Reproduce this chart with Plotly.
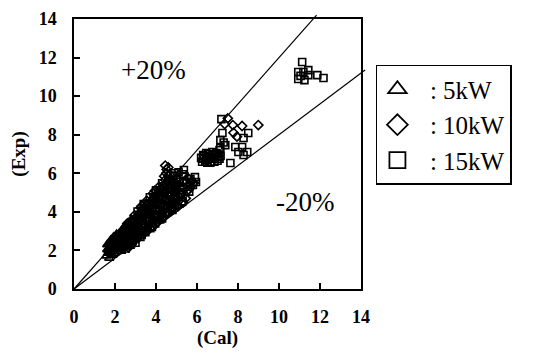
import plotly.graph_objects as go

# ---- data ----
tri_x = [1.58, 1.62, 1.66, 1.70, 1.72, 1.76, 1.80, 1.83, 1.86, 1.90, 1.93, 1.97, 2.00, 2.04,
         2.08, 2.12, 2.15, 2.19, 2.23, 2.27, 2.31, 2.35, 2.39, 2.43, 2.47, 2.52, 2.56, 2.61,
         2.66, 2.71, 2.76, 2.82, 2.88, 2.95, 3.02, 1.68, 1.95, 2.21, 2.49, 2.74,
         1.62, 1.74, 1.78, 1.88, 1.92, 2.02, 2.06, 2.16, 2.20, 2.28, 2.34, 2.38, 2.44, 2.50,
         2.58, 2.64, 2.68, 2.80, 2.86, 2.92,
         1.72, 1.84, 1.96, 2.08, 2.20, 2.32, 2.44, 2.10, 2.30, 2.55, 2.80,
         1.75, 1.90, 2.05, 2.20, 2.35, 2.50, 2.65, 2.80,
         1.80, 2.00, 2.25, 2.45, 2.70]
tri_y = [1.72, 2.05, 1.85, 2.38, 1.60, 2.15, 2.55, 1.80, 2.30, 2.05, 2.70, 1.85, 2.45, 2.20,
         2.85, 1.95, 2.55, 2.30, 2.90, 2.05, 2.65, 2.40, 3.05, 2.15, 2.75, 2.50, 3.20, 2.25,
         2.90, 2.60, 3.35, 2.40, 3.05, 2.75, 3.45, 2.00, 2.25, 2.60, 2.35, 2.95,
         2.30, 1.90, 2.40, 1.75, 2.50, 2.05, 2.65, 2.10, 2.75, 2.45, 2.95, 2.20, 2.55, 3.05,
         2.40, 3.10, 2.70, 2.95, 2.55, 3.25,
         2.12, 2.28, 2.42, 2.52, 2.70, 2.86, 2.98, 2.75, 1.96, 2.18, 2.38,
         2.30, 2.50, 2.70, 2.88, 3.08, 3.28, 3.45, 3.62,
         2.02, 2.28, 2.55, 2.78, 3.05]

dia_x = [2.42, 2.48, 2.55, 2.60, 2.66, 2.72, 2.78, 2.84, 2.90, 2.96, 3.02, 3.08, 3.14, 3.20,
         3.26, 3.32, 3.38, 3.44, 3.50, 3.56, 3.62, 3.68, 3.74, 3.80, 3.86, 3.92, 3.98, 4.04,
         4.10, 4.16, 4.22, 4.28, 4.34, 4.40, 4.46, 4.52, 4.58, 4.64, 4.70, 4.76, 4.82, 4.88,
         4.95, 5.02, 5.10, 5.18, 5.26, 5.32, 5.40, 5.48, 5.56, 5.65, 5.75, 5.85,
         4.45, 4.52, 4.50, 4.60, 4.40, 4.65, 3.10, 3.45, 3.70, 4.05,
         2.52, 2.70, 2.88, 3.00, 3.16, 3.24, 3.36, 3.48, 3.58, 3.66, 3.78, 3.88, 3.96, 4.08,
         4.20, 4.30, 4.42, 4.54, 4.62, 4.74, 4.86, 4.98, 5.08, 5.20, 5.30, 5.45, 5.60,
         2.60, 2.84, 3.04, 3.28, 3.52, 3.76, 4.00, 4.24, 4.48, 4.72, 3.30, 3.95,
         3.05, 3.55, 4.05, 4.55, 5.05,
         2.95, 3.25, 3.55, 3.85, 4.15, 4.45, 2.95, 3.45, 3.95, 4.45, 4.95,
         7.50, 7.75, 7.78, 8.20, 8.99, 7.95, 7.35]
dia_y = [2.30, 2.95, 2.60, 3.40, 2.15, 3.10, 2.75, 3.55, 2.45, 3.25, 2.90, 3.75, 2.65, 3.40,
         3.05, 4.10, 2.85, 3.60, 3.25, 4.35, 3.05, 3.85, 3.45, 4.55, 3.25, 4.10, 3.70, 4.85,
         3.50, 4.35, 3.95, 5.10, 3.75, 4.60, 4.20, 5.35, 4.00, 4.85, 4.45, 5.55, 4.25, 5.05,
         4.70, 5.75, 4.55, 5.30, 4.90, 4.48, 5.60, 5.05, 5.75, 5.45, 5.60, 5.50,
         6.40, 6.20, 6.00, 6.30, 5.85, 5.95, 3.30, 3.95, 4.20, 4.45,
         2.40, 2.85, 3.30, 2.60, 3.10, 3.85, 3.30, 4.00, 3.50, 4.25, 3.70, 4.60, 3.35, 4.15,
         4.75, 3.85, 5.00, 4.50, 5.25, 4.05, 4.75, 5.30, 4.30, 5.00, 5.55, 4.70, 5.15,
         3.28, 3.42, 3.70, 4.00, 4.30, 4.58, 4.88, 5.18, 5.45, 5.72, 4.30, 5.10,
         2.62, 3.05, 3.48, 3.92, 4.35,
         3.82, 4.22, 4.58, 4.95, 5.30, 5.65, 3.35, 3.90, 4.45, 5.00, 5.50,
         8.85, 8.50, 8.10, 8.45, 8.50, 7.90, 8.55]

sq_x = [2.52, 2.58, 2.64, 2.70, 2.76, 2.82, 2.88, 2.94, 3.00, 3.06, 3.12, 3.18, 3.24, 3.30,
        3.36, 3.42, 3.48, 3.54, 3.60, 3.66, 3.72, 3.78, 3.84, 3.90, 3.96, 4.02, 4.08, 4.14,
        4.20, 4.26, 4.32, 4.38, 4.44, 4.50, 4.56, 4.62, 4.68, 4.74, 4.80, 4.86, 4.92, 4.98,
        5.06, 5.14, 5.22, 5.30, 5.38, 5.36, 5.55, 5.68, 5.80, 5.95, 4.72, 4.85, 4.90, 5.10, 5.30,
        2.60, 2.72, 2.86, 2.98, 3.10, 3.22, 3.34, 3.46, 3.58, 3.70, 3.82, 3.94, 4.06, 4.18,
        4.30, 4.42, 4.54, 4.66, 4.78, 4.90, 5.02, 5.18, 5.34, 5.50, 5.62, 5.90,
        2.68, 2.92, 3.16, 3.40, 3.64, 3.88, 4.12, 4.36, 4.60, 4.84,
        2.80, 3.30, 3.80, 4.30, 4.80, 5.25,
        3.10, 3.40, 3.70, 4.00, 4.30, 3.20, 3.70, 4.20, 4.70,
        6.25, 6.35, 6.45, 6.55, 6.65, 6.75, 6.85, 6.95, 7.05, 7.10, 6.30, 6.50, 6.70, 6.90,
        7.00, 7.15, 6.30, 6.40, 6.60, 6.80, 7.00, 6.45, 6.65, 6.85, 7.10, 6.20,
        7.19, 7.24, 7.14, 7.14, 7.38, 7.63, 7.87, 8.02, 8.27, 8.45, 8.27, 8.50, 8.20, 7.30,
        11.13, 10.94, 11.19, 11.43, 10.94, 11.24, 11.43, 11.87, 12.17, 11.05]
sq_y = [2.10, 2.75, 2.45, 3.20, 2.30, 2.95, 2.60, 3.45, 2.40, 3.15, 2.80, 3.65, 2.70, 3.35,
        3.00, 3.95, 2.95, 3.60, 3.25, 4.20, 3.15, 3.90, 3.50, 4.45, 3.40, 4.15, 3.75, 4.70,
        3.60, 4.40, 4.00, 4.95, 3.90, 4.65, 4.25, 5.20, 4.15, 4.90, 4.50, 5.40, 4.35, 5.10,
        4.75, 5.55, 5.15, 4.55, 5.85, 6.17, 5.30, 5.70, 5.40, 5.55, 4.20, 4.60, 6.00, 6.05, 5.95,
        2.25, 2.55, 3.15, 2.75, 3.40, 3.05, 3.75, 3.30, 4.00, 3.55, 4.25, 3.80, 4.50, 4.05,
        4.75, 4.35, 5.00, 4.55, 5.20, 4.80, 5.35, 4.95, 5.25, 5.55, 5.05, 5.80,
        3.30, 3.55, 3.85, 4.15, 4.45, 4.72, 5.02, 5.32, 5.60, 5.88,
        2.38, 2.80, 3.22, 3.66, 4.10, 4.52,
        4.02, 4.40, 4.76, 5.12, 5.48, 3.62, 4.15, 4.72, 5.25,
        6.60, 6.90, 6.70, 7.00, 6.80, 7.10, 6.75, 7.05, 6.85, 7.20, 6.95, 6.55, 6.60, 6.95,
        6.65, 6.90, 6.75, 6.60, 6.85, 6.95, 7.00, 7.05, 6.55, 6.60, 6.75, 6.80,
        8.81, 8.09, 7.72, 7.31, 7.46, 6.53, 7.36, 7.10, 7.83, 7.10, 6.95, 8.09, 7.36, 7.60,
        11.77, 11.25, 11.25, 11.35, 10.89, 10.83, 11.09, 11.09, 10.94, 11.05]

series_names = ["\u2002: 5kW", "\u2002: 10kW", "\u2002: 15kW"]
line_ratios = [1.2, 0.8]          # +20 % and -20 % lines (y = r * x)
axis_max = 14
tick_vals = [0, 2, 4, 6, 8, 10, 12, 14]

FONT = "Liberation Serif"

fig = go.Figure()

symbols = ["triangle-up-open", "diamond-open", "square-open"]
sizes = [8, 7, 7]
for xs, ys, sym, sz, nm in zip([tri_x, dia_x, sq_x], [tri_y, dia_y, sq_y], symbols, sizes, series_names):
    fig.add_trace(go.Scatter(
        x=xs, y=ys, mode="markers", name=nm, showlegend=False,
        marker=dict(symbol=sym, size=sz, color="black", line=dict(width=1.6, color="black")),
    ))
# legend entries with larger symbols
for sym, nm in zip(symbols, series_names):
    fig.add_trace(go.Scatter(
        x=[None], y=[None], mode="markers", name=nm,
        marker=dict(symbol=sym, size=16, color="black", line=dict(width=1.8, color="black")),
    ))

# +/-20 % lines, extending slightly past the frame as in the reference
line_end = 14.2
for r in line_ratios:
    xe = min(line_end, line_end / r)
    ye = r * xe
    fig.add_shape(type="line", xref="x domain", yref="y domain",
                  x0=0, y0=0, x1=xe / axis_max, y1=ye / axis_max,
                  line=dict(color="black", width=1.2), layer="below")

fig.add_annotation(x=3.9, y=11.33, text="+20%", showarrow=False,
                   font=dict(family=FONT, size=27, color="black"))
fig.add_annotation(x=11.27, y=4.49, text="-20%", showarrow=False,
                   font=dict(family=FONT, size=27, color="black"))

axis_common = dict(
    range=[0, axis_max], tickvals=tick_vals, ticktext=[str(v) for v in tick_vals],
    showgrid=False, zeroline=False, showline=True, mirror=True,
    linecolor="black", linewidth=1.5, ticks="inside", ticklen=6, tickwidth=1.5,
    tickcolor="black", tickfont=dict(family=FONT, size=18, color="black", weight="bold"),
)
fig.update_xaxes(**axis_common, ticklabelstandoff=11,
                 title=dict(text="<b>(Cal)</b>", font=dict(family=FONT, size=19, color="black"),
                            standoff=4))
fig.update_yaxes(**axis_common, ticklabelstandoff=12,
                 title=dict(text="<b>(Exp)</b>", font=dict(family=FONT, size=19, color="black"),
                            standoff=8))

# page body has an 8 px margin, so the figure is 8 px smaller and margins shifted
fig.update_layout(
    width=528, height=346,
    margin=dict(l=66, r=175, t=11, b=65, autoexpand=False),
    paper_bgcolor="white", plot_bgcolor="white",
    font=dict(family=FONT, color="black"),
    legend=dict(x=1.052, y=0.83, xanchor="left", yanchor="top",
                bordercolor="black", borderwidth=1.5, bgcolor="white",
                font=dict(family=FONT, size=25, color="black"),
                entrywidth=150, entrywidthmode="pixels",
                itemclick=False, itemdoubleclick=False),
)

fig.write_html("out.html")
